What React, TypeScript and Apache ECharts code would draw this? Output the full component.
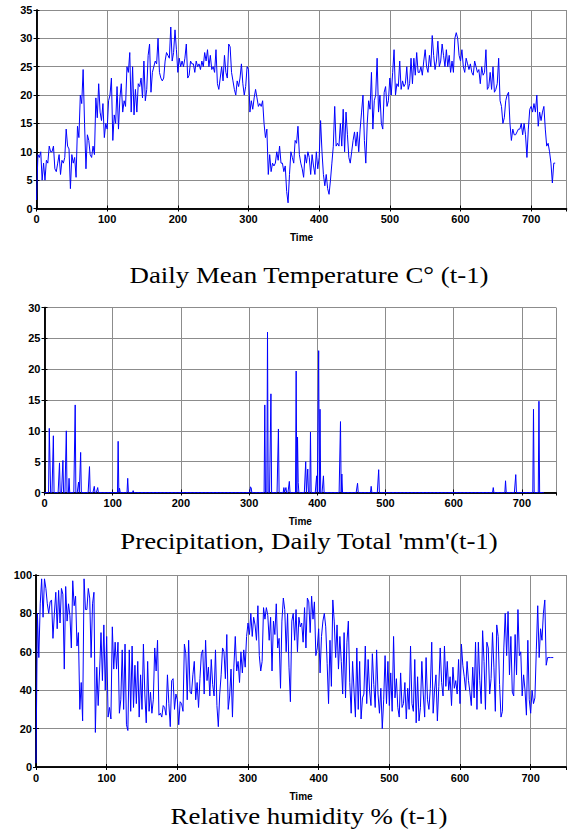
import React, { useEffect, useRef } from "react";
import * as echarts from "echarts";

// Daily mean temperature, one value every 2 days starting at day 0
const TEMP_STEP = 2;
const temperature = [
  1.5, 9.5, 9, 10, 5, 8, 5, 8.5, 8, 11, 10, 10, 11, 7, 6.5, 8, 9.5, 6, 8.5, 8,
  9, 14, 11, 10.5, 3.5, 9.5, 8, 9, 5.5, 14.5, 12.5, 20, 18.5, 24.5, 15, 7, 13, 12, 9.5, 9,
  11, 9.5, 19.5, 16, 22, 17, 15.5, 18.5, 12.5, 15, 14, 19, 20, 23, 12, 16.5, 15, 21.5, 14, 19.5,
  22, 17, 19, 18, 25, 24, 27.5, 17, 25, 16.5, 21, 17, 22, 21.5, 23, 19.5, 26, 19, 21, 27,
  29, 20.5, 24, 25, 26, 25.5, 30, 24, 23, 22.5, 23, 26, 27.5, 27, 26.5, 32, 26, 27.5, 31.5, 28,
  24, 26.5, 25, 26, 25, 26.5, 29, 23, 23.5, 26, 25.5, 25.5, 24, 26, 25, 25.5, 24.5, 26, 25, 27.5,
  26, 28, 25, 27, 24.5, 25, 24, 28, 22, 21, 23, 25, 22.5, 27, 24, 23, 29, 28.5, 24, 22.5,
  21, 20, 22.5, 21.5, 23, 25.5, 22, 20, 21.5, 25, 24.5, 17, 19, 17.5, 19.5, 21, 19.5, 18, 18.5, 18,
  19, 15, 12.5, 14, 6, 9.5, 6.5, 8, 7.5, 8, 10, 8.5, 11, 8, 8, 6.5, 7.5, 3, 1, 6,
  10, 9, 8, 12, 11.5, 14.5, 9.5, 8, 7, 5.5, 9.5, 8, 10, 9, 6, 9.5, 7.5, 6, 10, 7,
  9, 15.5, 10, 6, 4, 6, 3.5, 2.5, 5, 8, 11, 18, 11, 11.5, 11, 15, 11, 17.5, 10, 17,
  13, 9, 8, 10, 12, 13.5, 11, 13.5, 10, 14, 17, 20, 12, 8, 15, 19, 17.5, 24, 14, 19,
  20, 26.5, 17, 20, 15, 14, 20.5, 21.5, 18, 19, 23, 20, 24, 28, 20, 22, 21.5, 26, 21, 22.5,
  21.5, 22, 25, 21, 22, 26.5, 22, 26.5, 23.5, 27.5, 24, 24, 25, 23.5, 26, 28, 25, 24, 27, 25,
  30.5, 27, 24.5, 26, 29.5, 25, 26, 29, 27, 25, 28, 25, 27, 24, 26, 24, 30, 31, 30, 27,
  26, 28, 25, 24, 26.5, 25.5, 24.5, 25.5, 24, 23.5, 26, 25, 24, 24.5, 22, 25, 23.5, 24, 28, 21,
  21.5, 24, 21, 25, 20.5, 21, 22, 26.5, 19, 18, 15, 16, 19, 20, 20.5, 15, 12, 14, 13, 13,
  13.5, 14, 14, 15, 13, 15, 13, 9, 14, 17.5, 18, 17, 18.5, 17, 20, 14.5, 17, 15.5, 17, 18,
  14, 11, 11.5, 10, 8, 4.5, 8, 8,
];

// Precipitation: rainy days [day, mm]; all other days are 0
const PRECIP_DAYS = 732;
const rainDay = [
  7, 8, 13, 22, 27, 32, 36, 45, 50, 53, 66, 73, 78, 108, 110, 122, 130,
  302, 303, 323, 327, 332, 343, 351, 354, 359, 369, 371, 372, 383, 386, 390, 399, 402, 404, 409,
  434, 436, 459, 479, 490, 658, 676, 691, 717, 725,
];
const rainMm = [
  10.4, 10.4, 9.2, 4.8, 5.2, 10, 2.3, 14.2, 1.7, 6.5, 4.2, 1, 0.8, 8.3, 0.7, 2.3, 0.3,
  0.9, 0.8, 14.2, 26, 16, 10.3, 0.8, 0.8, 1.8, 19.7, 9, 1.6, 5, 3.8, 9.8, 2.7, 23, 13.5, 2.7,
  11.5, 3, 1.5, 1, 3.7, 0.8, 1.9, 2.9, 13.5, 14.8,
];

// Relative humidity, one value every 2 days starting at day 0
const HUM_STEP = 2;
const humidity = [
  2, 80, 57, 85, 98, 78, 98, 93, 85, 80, 86, 87, 67, 80, 91, 72, 92, 75, 93, 90,
  51, 94, 76, 85, 79, 62, 97, 84, 89, 63, 70, 30, 44, 24, 98, 82, 82, 93, 88, 57,
  85, 91, 18, 52, 32, 50, 70, 45, 74, 40, 68, 26, 31, 25, 73, 51, 65, 51, 65, 28,
  35, 61, 30, 64, 22, 19, 61, 29, 63, 31, 53, 33, 55, 26, 48, 30, 64, 38, 23, 55,
  29, 39, 28, 35, 62, 50, 66, 27, 28, 26, 32, 31, 27, 48, 33, 21, 45, 46, 30, 38,
  35, 22, 34, 33, 29, 64, 59, 35, 66, 39, 38, 48, 55, 35, 44, 31, 46, 59, 61, 38,
  66, 45, 52, 37, 56, 43, 37, 61, 32, 21, 38, 48, 62, 60, 46, 69, 30, 37, 51, 26,
  52, 68, 50, 55, 44, 60, 49, 61, 52, 68, 75, 69, 80, 68, 78, 74, 66, 84, 58, 50,
  55, 83, 77, 83, 79, 66, 78, 50, 76, 69, 85, 62, 67, 41, 76, 88, 82, 60, 80, 52,
  34, 76, 80, 66, 82, 60, 78, 73, 75, 65, 83, 62, 88, 86, 70, 89, 77, 86, 58, 62,
  72, 49, 68, 76, 80, 73, 54, 33, 66, 42, 87, 76, 57, 74, 51, 68, 55, 38, 70, 36,
  65, 76, 44, 28, 55, 40, 26, 62, 30, 55, 25, 36, 38, 63, 33, 56, 40, 32, 59, 43,
  31, 61, 38, 28, 41, 20, 35, 58, 33, 55, 32, 49, 29, 68, 36, 46, 31, 26, 49, 31,
  33, 44, 25, 41, 30, 63, 33, 29, 56, 23, 47, 24, 31, 55, 38, 26, 57, 35, 30, 41,
  65, 28, 40, 48, 24, 42, 62, 44, 37, 63, 42, 55, 40, 47, 32, 52, 41, 45, 38, 56,
  33, 64, 53, 47, 40, 55, 45, 39, 32, 52, 36, 65, 30, 65, 45, 33, 71, 55, 30, 65,
  62, 38, 46, 70, 52, 29, 74, 68, 43, 26, 29, 62, 80, 58, 81, 48, 68, 39, 37, 69,
  48, 82, 58, 60, 37, 48, 40, 27, 66, 35, 28, 40, 33, 36, 61, 84, 57, 72, 66, 80,
  87, 53, 57, 57, 57, 57, 57,
];

const tempData = temperature.map((v, i) => [i * TEMP_STEP, v]);
const humData = humidity.map((v, i) => [i * HUM_STEP, v]);
const precipData: number[][] = [];
for (let d = 0; d <= PRECIP_DAYS; d++) {
  const k = rainDay.indexOf(d);
  precipData.push([d, k >= 0 ? rainMm[k] : 0]);
}

const grids = [
  { left: 36.5, top: 10, width: 530, height: 198.5 },
  { left: 44.5, top: 307.5, width: 511.5, height: 185 },
  { left: 36, top: 575, width: 530, height: 192 },
];
const yRanges = [
  { max: 35, interval: 5 },
  { max: 30, interval: 5 },
  { max: 100, interval: 20 },
];
const titles = [
  { text: "Daily Mean Temperature C\u00B0 (t-1)", y: 275 },
  { text: "Precipitation, Daily Total 'mm'(t-1)", y: 541 },
  { text: "Relative humidity % (t-1)", y: 816 },
];

const labelFont = {
  color: "#000",
  fontFamily: "Liberation Sans, Arial, sans-serif",
  fontWeight: "bold" as const,
  fontSize: 11,
};
const axisLine = { show: true, lineStyle: { color: "#000", width: 1.5 } };
const splitLine = { show: true, lineStyle: { color: "#8c8c8c", width: 1, type: "solid" as const } };
const tick = { show: true, inside: true, length: 3, lineStyle: { color: "#000", width: 1 } };

export default function App() {
  const ref = useRef<HTMLDivElement>(null);
  useEffect(() => {
    if (!ref.current) return;
    const chart = echarts.init(ref.current, null, { renderer: "svg" });
    const xAxis: any[] = [];
    const yAxis: any[] = [];
    grids.forEach((g, i) => {
      xAxis.push({
        type: "value",
        gridIndex: i,
        min: 0,
        max: 750,
        interval: 100,
        position: "bottom",
        name: "Time",
        nameLocation: "middle",
        nameGap: 24,
        nameTextStyle: { ...labelFont, fontSize: 10 },
        axisLine,
        axisTick: tick,
        splitLine,
        axisLabel: { ...labelFont, margin: 5, showMaxLabel: false },
      });
      xAxis.push({
        type: "value",
        gridIndex: i,
        min: 0,
        max: 750,
        interval: 100,
        position: "top",
        axisLine,
        axisTick: tick,
        splitLine: { show: false },
        axisLabel: { show: false },
      });
      yAxis.push({
        type: "value",
        gridIndex: i,
        min: 0,
        max: yRanges[i].max,
        interval: yRanges[i].interval,
        position: "left",
        axisLine,
        axisTick: tick,
        splitLine,
        axisLabel: { ...labelFont, margin: 4 },
      });
      yAxis.push({
        type: "value",
        gridIndex: i,
        min: 0,
        max: yRanges[i].max,
        interval: yRanges[i].interval,
        position: "right",
        axisLine,
        axisTick: tick,
        splitLine: { show: false },
        axisLabel: { show: false },
      });
    });
    const datasets = [tempData, precipData, humData];
    const series = datasets.map((d, i) => ({
      type: "line",
      xAxisIndex: i * 2,
      yAxisIndex: i * 2,
      data: d,
      showSymbol: false,
      symbol: "none",
      lineStyle: { color: "#0000ff", width: 1 },
      z: 1,
    }));
    chart.setOption({
      animation: false,
      backgroundColor: "#fff",
      grid: grids,
      xAxis,
      yAxis,
      series,
      graphic: titles.map((t) => ({
        type: "text",
        x: 309,
        y: t.y,
        scaleX: 1.12,
        style: {
          text: t.text,
          fill: "#000",
          font: '24px "Liberation Serif", "Times New Roman", serif',
          textAlign: "center",
          textVerticalAlign: "middle",
        },
      })),
    });
    return () => chart.dispose();
  }, []);
  return (
    <div
      ref={ref}
      style={{ position: "absolute", left: 0, top: 0, width: 572, height: 830 }}
    />
  );
}
